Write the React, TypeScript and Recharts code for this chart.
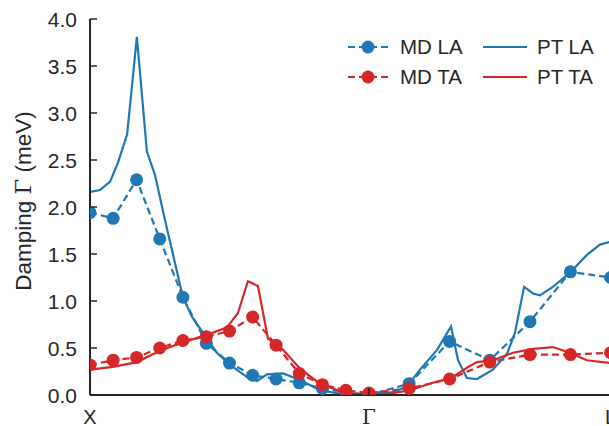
import React from "react";
import { LineChart, Line, XAxis, YAxis, Customized } from "recharts";

// ---- data ----
const xTickPos = [0, 1, 1.866];
const xTickLabels = ["X", "Γ", "L"];
const yTicks = [0, 0.5, 1.0, 1.5, 2.0, 2.5, 3.0, 3.5, 4.0];

const qMD = [0, 0.083, 0.167, 0.25, 0.333, 0.417, 0.5, 0.583, 0.667, 0.75, 0.833, 0.917, 1.0, 1.144, 1.289, 1.433, 1.577, 1.722, 1.866];
const mdLA = [1.94, 1.88, 2.29, 1.66, 1.04, 0.55, 0.34, 0.21, 0.17, 0.13, 0.07, 0.03, 0.0, 0.12, 0.57, 0.37, 0.78, 1.31, 1.25];
const mdTA = [0.32, 0.37, 0.4, 0.5, 0.58, 0.62, 0.68, 0.83, 0.53, 0.23, 0.11, 0.05, 0.02, 0.07, 0.17, 0.35, 0.43, 0.43, 0.45];

const qPTLA = [0, 0.036, 0.072, 0.1, 0.133, 0.168, 0.204, 0.233, 0.269, 0.305, 0.333, 0.366, 0.405, 0.455, 0.502, 0.563, 0.599, 0.634, 0.692, 0.753, 0.824, 0.885, 1.0, 1.086, 1.136, 1.183, 1.244, 1.294, 1.319, 1.351, 1.387, 1.444, 1.495, 1.523, 1.556, 1.588, 1.613, 1.659, 1.72, 1.781, 1.828, 1.866];
const ptLA = [2.16, 2.18, 2.27, 2.47, 2.77, 3.81, 2.59, 2.34, 1.86, 1.4, 1.04, 0.83, 0.66, 0.45, 0.32, 0.19, 0.15, 0.22, 0.23, 0.16, 0.05, 0.02, 0.0, 0.03, 0.09, 0.27, 0.48, 0.73, 0.37, 0.18, 0.17, 0.27, 0.44, 0.66, 1.15, 1.08, 1.06, 1.15, 1.3, 1.49, 1.6, 1.63];

const qPTTA = [0, 0.082, 0.168, 0.251, 0.333, 0.419, 0.491, 0.53, 0.566, 0.602, 0.638, 0.692, 0.753, 0.824, 0.907, 1.0, 1.086, 1.147, 1.229, 1.294, 1.351, 1.387, 1.444, 1.516, 1.588, 1.659, 1.72, 1.781, 1.866];
const ptTA = [0.27, 0.3, 0.35, 0.47, 0.56, 0.64, 0.72, 0.87, 1.21, 1.16, 0.6, 0.48, 0.28, 0.12, 0.03, 0.0, 0.02, 0.05, 0.13, 0.18, 0.29, 0.35, 0.37, 0.45, 0.49, 0.51, 0.45, 0.37, 0.34];

const mdLAData = qMD.map((q, i) => ({ q, v: mdLA[i] }));
const mdTAData = qMD.map((q, i) => ({ q, v: mdTA[i] }));
const ptLAData = qPTLA.map((q, i) => ({ q, v: ptLA[i] }));
const ptTAData = qPTTA.map((q, i) => ({ q, v: ptTA[i] }));

// ---- style ----
const BLUE = "#1f77b4";
const RED = "#d62728";
const AXIS = "#262626";
const TEXT = "#262626";
const SANS = "'Liberation Sans', Arial, Helvetica, sans-serif";
const SERIF = "'DejaVu Serif', 'Liberation Serif', serif";
const W = 640;
const H = 426;
const PL = 90;
const PR = 610.6;
const PT = 19;
const PB = 395;
const TICK = 7;

const LeftTick = (props: any) => {
  const { y, payload } = props;
  return (
    <g>
      <line x1={PL} x2={PL + TICK} y1={y} y2={y} stroke={AXIS} strokeWidth={1.5} />
      <text x={77} y={y} dy="0.36em" textAnchor="end" fontSize={21} fontFamily={SANS} fill={TEXT}>
        {Number(payload.value).toFixed(1)}
      </text>
    </g>
  );
};

const RightTick = (props: any) => {
  const { y } = props;
  return <line x1={PR - TICK} x2={PR} y1={y} y2={y} stroke={AXIS} strokeWidth={1.5} />;
};

const BottomTick = (props: any) => {
  const { x, payload } = props;
  const idx = xTickPos.indexOf(payload.value);
  const label = xTickLabels[idx] ?? "";
  const isGamma = label === "Γ";
  return (
    <g>
      <line x1={x} x2={x} y1={PB} y2={PB - TICK} stroke={AXIS} strokeWidth={1.5} />
      <text x={x} y={424} textAnchor="middle" fontSize={20} fontFamily={isGamma ? SERIF : SANS} fill={TEXT}>
        {label}
      </text>
    </g>
  );
};

const TopTick = (props: any) => {
  const { x } = props;
  return <line x1={x} x2={x} y1={PT} y2={PT + TICK} stroke={AXIS} strokeWidth={1.5} />;
};

const Decorations = () => (
  <g>
    <text transform="translate(31,201) rotate(-90)" textAnchor="middle" fontSize={22.5} fontFamily={SANS} fill={TEXT}>
      Damping <tspan fontFamily={SERIF}>Γ</tspan> (meV)
    </text>
    {/* legend */}
    <rect x={340} y={30} width={260} height={62} fill="#fff" />
    <line x1={348} x2={388} y1={47} y2={47} stroke={BLUE} strokeWidth={2.2} strokeDasharray="7 4" />
    <circle cx={368} cy={47} r={6.5} fill={BLUE} />
    <text x={400} y={54} fontSize={20.5} fontFamily={SANS} fill={TEXT}>MD LA</text>
    <line x1={348} x2={388} y1={77} y2={77} stroke={RED} strokeWidth={2.2} strokeDasharray="7 4" />
    <circle cx={368} cy={77} r={6.5} fill={RED} />
    <text x={400} y={84} fontSize={20.5} fontFamily={SANS} fill={TEXT}>MD TA</text>
    <line x1={483} x2={527} y1={47} y2={47} stroke={BLUE} strokeWidth={2.2} />
    <text x={537} y={54} fontSize={20.5} fontFamily={SANS} fill={TEXT}>PT LA</text>
    <line x1={483} x2={527} y1={77} y2={77} stroke={RED} strokeWidth={2.2} />
    <text x={537} y={84} fontSize={20.5} fontFamily={SANS} fill={TEXT}>PT TA</text>
  </g>
);

export default function App() {
  return (
    <div style={{ position: "absolute", left: 0, top: 0, width: 609, height: 426, overflow: "hidden", background: "#fff" }}>
      <LineChart width={W} height={H} margin={{ top: PT, right: W - PR, bottom: 0, left: 0 }}>
        <XAxis
          xAxisId="b"
          dataKey="q"
          type="number"
          domain={[0, 1.866]}
          ticks={xTickPos}
          allowDataOverflow
          height={H - PB}
          axisLine={{ stroke: AXIS, strokeWidth: 2 }}
          tickLine={false}
          tick={<BottomTick />}
          interval={0}
        />
        <XAxis
          xAxisId="t"
          orientation="top"
          dataKey="q"
          type="number"
          domain={[0, 1.866]}
          ticks={xTickPos}
          allowDataOverflow
          height={0}
          axisLine={{ stroke: AXIS, strokeWidth: 2 }}
          tickLine={false}
          tick={<TopTick />}
          interval={0}
        />
        <YAxis
          yAxisId="l"
          type="number"
          domain={[0, 4]}
          ticks={yTicks}
          allowDataOverflow
          width={PL}
          axisLine={{ stroke: AXIS, strokeWidth: 2 }}
          tickLine={false}
          tick={<LeftTick />}
          interval={0}
        />
        <YAxis
          yAxisId="r"
          orientation="right"
          type="number"
          domain={[0, 4]}
          ticks={yTicks}
          allowDataOverflow
          width={0}
          axisLine={{ stroke: AXIS, strokeWidth: 2 }}
          tickLine={false}
          tick={<RightTick />}
          interval={0}
        />
        <Line
          xAxisId="b"
          yAxisId="l"
          data={mdLAData}
          dataKey="v"
          type="linear"
          stroke={BLUE}
          strokeWidth={2.2}
          strokeDasharray="7 4"
          dot={{ r: 6.5, fill: BLUE, stroke: BLUE, strokeWidth: 0, strokeDasharray: "" }}
          activeDot={false}
          isAnimationActive={false}
        />
        <Line
          xAxisId="b"
          yAxisId="l"
          data={mdTAData}
          dataKey="v"
          type="linear"
          stroke={RED}
          strokeWidth={2.2}
          strokeDasharray="7 4"
          dot={{ r: 6.5, fill: RED, stroke: RED, strokeWidth: 0, strokeDasharray: "" }}
          activeDot={false}
          isAnimationActive={false}
        />
        <Line
          xAxisId="b"
          yAxisId="l"
          data={ptLAData}
          dataKey="v"
          type="linear"
          stroke={BLUE}
          strokeWidth={2.2}
          dot={false}
          activeDot={false}
          isAnimationActive={false}
        />
        <Line
          xAxisId="b"
          yAxisId="l"
          data={ptTAData}
          dataKey="v"
          type="linear"
          stroke={RED}
          strokeWidth={2.2}
          dot={false}
          activeDot={false}
          isAnimationActive={false}
        />
        <Customized component={Decorations} />
      </LineChart>
    </div>
  );
}
